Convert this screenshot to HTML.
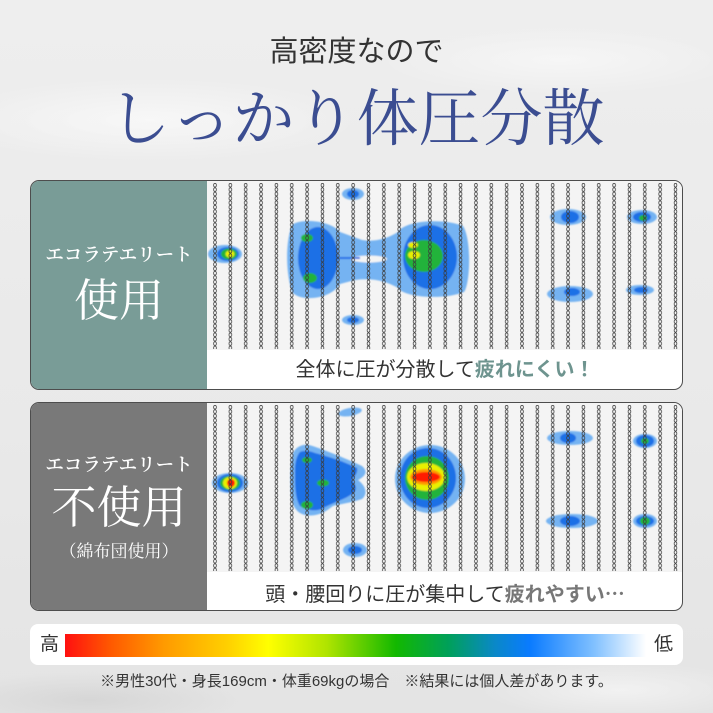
<!DOCTYPE html>
<html><head><meta charset="utf-8">
<style>
html,body{margin:0;padding:0;}
body{width:713px;height:713px;position:relative;overflow:hidden;
background:
radial-gradient(ellipse 300px 60px at 150px 120px, rgba(255,255,255,0.6), rgba(255,255,255,0) 70%),
radial-gradient(ellipse 260px 50px at 560px 60px, rgba(255,255,255,0.5), rgba(255,255,255,0) 70%),
radial-gradient(ellipse 200px 40px at 620px 690px, rgba(255,255,255,0.5), rgba(255,255,255,0) 70%),
radial-gradient(ellipse 220px 40px at 90px 700px, rgba(200,200,200,0.5), rgba(200,200,200,0) 70%),
linear-gradient(#eeeeee,#e9e9e9 60%,#e4e4e4);
font-family:"Liberation Sans","Noto Sans CJK JP",sans-serif;}
.abs{position:absolute;}
.sub{left:0;width:713px;top:34px;text-align:center;font-size:29px;line-height:36px;color:#333;}
.title{left:0;width:713px;top:80px;text-align:center;font-family:"Liberation Serif","Noto Serif CJK SC",serif;font-size:62px;line-height:80px;color:#3b4d91;}
.panel{left:30px;width:651px;border:1.5px solid #4d4d4d;border-radius:9px;overflow:hidden;background:#fff;}
.side{left:0;top:0;width:176px;height:100%;}
.heat{left:176px;top:0;width:476px;background:#f4f4f4;}
.lbl{left:0;width:176px;text-align:center;color:#fff;font-family:"Liberation Serif","Noto Serif CJK SC",serif;white-space:nowrap;}
.cap{left:176px;width:476px;text-align:center;font-size:20px;color:#333;white-space:nowrap;}
.bar{left:30px;top:624px;width:653px;height:41px;background:#fff;border-radius:8px;}
.foot{left:0;width:713px;top:672px;text-align:center;font-size:15px;line-height:20px;color:#333;}
</style></head><body>

<div class="abs sub">高密度なので</div>
<div class="abs title">しっかり体圧分散</div>

<!-- top panel -->
<div class="abs panel" style="top:180px;height:208px;">
  <div class="abs side" style="background:#799c97;"></div>
  <div class="abs heat" style="height:169px;"></div>
  <div class="abs lbl" style="top:63px;font-size:18.5px;line-height:24px;font-weight:600;">エコラテエリート</div>
  <div class="abs lbl" style="top:92px;font-size:45px;line-height:56px;">使用</div>
  <div class="abs cap" style="top:176px;line-height:26px;">全体に圧が分散して<b style="color:#6e948f;">疲れにくい！</b></div>
</div>

<!-- bottom panel -->
<div class="abs panel" style="top:402px;height:207px;">
  <div class="abs side" style="background:#797979;"></div>
  <div class="abs heat" style="height:169px;"></div>
  <div class="abs lbl" style="top:51px;font-size:18.5px;line-height:24px;font-weight:600;">エコラテエリート</div>
  <div class="abs lbl" style="top:77px;font-size:45px;line-height:56px;">不使用</div>
  <div class="abs lbl" style="top:138px;font-size:17px;line-height:22px;">（綿布団使用）</div>
  <div class="abs cap" style="top:177px;line-height:26px;">頭・腰回りに圧が集中して<b style="color:#777;">疲れやすい<span style="font-family:'Noto Sans CJK JP',sans-serif;">…</span></b></div>
</div>

<svg class="abs" style="left:0;top:0;" width="713" height="713" viewBox="0 0 713 713">
<defs>
  <pattern id="chain" width="4" height="4.4" patternUnits="userSpaceOnUse">
    <ellipse cx="2" cy="2.2" rx="1.35" ry="1.85" fill="none" stroke="#3a3a3a" stroke-width="0.75"/>
  </pattern>
  <filter id="soft" x="-20%" y="-20%" width="140%" height="140%"><feGaussianBlur stdDeviation="0.8"/></filter>
  <g id="col"><rect width="4" height="166" fill="url(#chain)"/></g>
  <g id="cols">
    <use href="#col" x="213"/><use href="#col" x="228.35"/><use href="#col" x="243.7"/><use href="#col" x="259.05"/>
    <use href="#col" x="274.4"/><use href="#col" x="289.75"/><use href="#col" x="305.1"/><use href="#col" x="320.45"/>
    <use href="#col" x="335.8"/><use href="#col" x="351.15"/><use href="#col" x="366.5"/><use href="#col" x="381.85"/>
    <use href="#col" x="397.2"/><use href="#col" x="412.55"/><use href="#col" x="427.9"/><use href="#col" x="443.25"/>
    <use href="#col" x="458.6"/><use href="#col" x="473.95"/><use href="#col" x="489.3"/><use href="#col" x="504.65"/>
    <use href="#col" x="520"/><use href="#col" x="535.35"/><use href="#col" x="550.7"/><use href="#col" x="566.05"/>
    <use href="#col" x="581.4"/><use href="#col" x="596.75"/><use href="#col" x="612.1"/><use href="#col" x="627.45"/>
    <use href="#col" x="642.8"/><use href="#col" x="658.15"/><use href="#col" x="673.5"/>
  </g>
</defs>

<!-- TOP heat blobs -->
<g filter="url(#soft)">
  <ellipse cx="225" cy="254" rx="17" ry="9" fill="#74b3f2"/>
  <ellipse cx="228" cy="254" rx="11" ry="7" fill="#1e6fe6"/>
  <ellipse cx="229" cy="254" rx="8" ry="5.5" fill="#22b33a"/>
  <ellipse cx="230" cy="254" rx="4.5" ry="3.5" fill="#e8f000"/>
  <ellipse cx="353" cy="194" rx="11" ry="6" fill="#74b3f2"/>
  <ellipse cx="353" cy="194" rx="6" ry="4" fill="#1e6fe6"/>
  <ellipse cx="353" cy="320" rx="11" ry="5" fill="#74b3f2"/>
  <ellipse cx="353" cy="320" rx="6" ry="3" fill="#1e6fe6"/>
  <path d="M292,225 C300,218 330,220 340,232 L362,240 C372,242 385,240 398,232 C405,220 445,218 463,226 C472,240 470,285 464,292 C445,300 405,298 398,288 C385,280 370,278 355,280 L340,284 C330,300 300,302 292,292 C285,270 286,240 292,225 Z" fill="#74b3f2"/>
  <ellipse cx="369" cy="259" rx="18" ry="3.5" fill="#f4f4f4"/>
  <ellipse cx="318" cy="258" rx="20" ry="31" fill="#1e6fe6"/>
  <rect x="335" y="257" width="25" height="2" fill="#1e6fe6"/>
  <ellipse cx="430" cy="257" rx="27" ry="32" fill="#1e6fe6"/>
  <ellipse cx="307" cy="238" rx="6" ry="4" fill="#22b33a"/>
  <ellipse cx="310" cy="278" rx="7" ry="5" fill="#22b33a"/>
  <ellipse cx="424" cy="256" rx="19" ry="16" fill="#22b33a"/>
  <ellipse cx="413" cy="245" rx="5" ry="3" fill="#e8f000"/>
  <ellipse cx="414" cy="255" rx="6" ry="4" fill="#e8f000"/>
  <ellipse cx="568" cy="217" rx="18" ry="8" fill="#74b3f2"/>
  <ellipse cx="570" cy="217" rx="9" ry="6" fill="#1e6fe6"/>
  <ellipse cx="642" cy="217" rx="15" ry="7" fill="#74b3f2"/>
  <ellipse cx="642" cy="217" rx="9" ry="5" fill="#1e6fe6"/>
  <ellipse cx="643" cy="218" rx="4" ry="3" fill="#22b33a"/>
  <ellipse cx="570" cy="294" rx="23" ry="8" fill="#74b3f2"/>
  <ellipse cx="572" cy="292" rx="8" ry="4" fill="#1e6fe6"/>
  <ellipse cx="640" cy="290" rx="14" ry="5" fill="#74b3f2"/>
  <ellipse cx="641" cy="290" rx="7" ry="3" fill="#1e6fe6"/>
</g>

<!-- BOTTOM heat blobs -->
<g filter="url(#soft)">
  <ellipse cx="230" cy="483" rx="18" ry="10" fill="#74b3f2"/>
  <ellipse cx="230" cy="483" rx="13" ry="9" fill="#1e6fe6"/>
  <ellipse cx="230" cy="483" rx="10" ry="7" fill="#22b33a"/>
  <ellipse cx="230" cy="483" rx="7" ry="6" fill="#e8f000"/>
  <ellipse cx="231" cy="483" rx="4" ry="4" fill="#ff1a00"/>
  <ellipse cx="350" cy="412" rx="12" ry="4" fill="#74b3f2" transform="rotate(-10 350 412)"/>
  <ellipse cx="355" cy="550" rx="12" ry="7" fill="#74b3f2"/>
  <ellipse cx="355" cy="550" rx="7" ry="4" fill="#1e6fe6"/>
  <path d="M293,453 C296,447 302,444 309,445 C320,448 345,458 362,466 C368,471 366,476 358,480 C366,486 368,494 362,499 C350,503 340,504 333,506 C325,512 318,517 305,515 C296,513 292,505 291,495 C290,480 290,465 293,453 Z" fill="#74b3f2"/>
  <path d="M300,452 C305,450 310,451 315,453 C330,457 345,462 357,468 C358,473 354,477 352,480 C356,485 358,490 352,494 C345,499 335,502 325,507 C318,512 308,511 300,506 C295,498 295,485 295,470 C295,462 297,455 300,452 Z" fill="#1e6fe6"/>
  <ellipse cx="307" cy="460" rx="5" ry="3" fill="#22b33a"/>
  <ellipse cx="323" cy="483" rx="6" ry="3.5" fill="#22b33a"/>
  <ellipse cx="307" cy="505" rx="6" ry="4" fill="#22b33a"/>
  <ellipse cx="430" cy="479" rx="35" ry="34" fill="#74b3f2"/>
  <ellipse cx="428" cy="478" rx="28" ry="30" fill="#1e6fe6"/>
  <ellipse cx="427" cy="478" rx="22" ry="22" fill="#22b33a"/>
  <ellipse cx="426" cy="477" rx="19" ry="14" fill="#e8f000"/>
  <ellipse cx="426" cy="477" rx="16" ry="8" fill="#ff9a00"/>
  <ellipse cx="426" cy="477" rx="14" ry="5" fill="#ff1a00"/>
  <ellipse cx="570" cy="438" rx="23" ry="7" fill="#74b3f2"/>
  <ellipse cx="568" cy="438" rx="8" ry="5" fill="#1e6fe6"/>
  <ellipse cx="645" cy="441" rx="12" ry="7" fill="#74b3f2"/>
  <ellipse cx="645" cy="441" rx="9" ry="6" fill="#1e6fe6"/>
  <ellipse cx="645" cy="441" rx="4" ry="3" fill="#22b33a"/>
  <ellipse cx="572" cy="521" rx="26" ry="7" fill="#74b3f2"/>
  <ellipse cx="570" cy="521" rx="10" ry="5" fill="#1e6fe6"/>
  <ellipse cx="645" cy="521" rx="12" ry="7" fill="#74b3f2"/>
  <ellipse cx="645" cy="521" rx="9" ry="5" fill="#1e6fe6"/>
  <ellipse cx="645" cy="521" rx="5" ry="4" fill="#22b33a"/>
</g>

<use href="#cols" y="183"/>
<use href="#cols" y="405"/>
</svg>

<div class="abs bar"></div>
<div class="abs" style="left:65px;top:634px;width:581px;height:23px;background:linear-gradient(to right,#ff1010 0%,#ff5a00 8%,#ff9a00 17%,#ffd000 28%,#ffff00 35%,#b0e400 45%,#12b800 57%,#00a05a 66%,#0a88c8 74%,#0a7bff 80%,#80c0ff 91%,#ffffff 100%);"></div>
<div class="abs" style="left:40px;top:632px;font-size:19px;line-height:26px;color:#333;">高</div>
<div class="abs" style="left:654px;top:632px;font-size:19px;line-height:26px;color:#333;">低</div>
<div class="abs foot">※男性30代・身長169cm・体重69kgの場合　※結果には個人差があります。</div>
</body></html>
